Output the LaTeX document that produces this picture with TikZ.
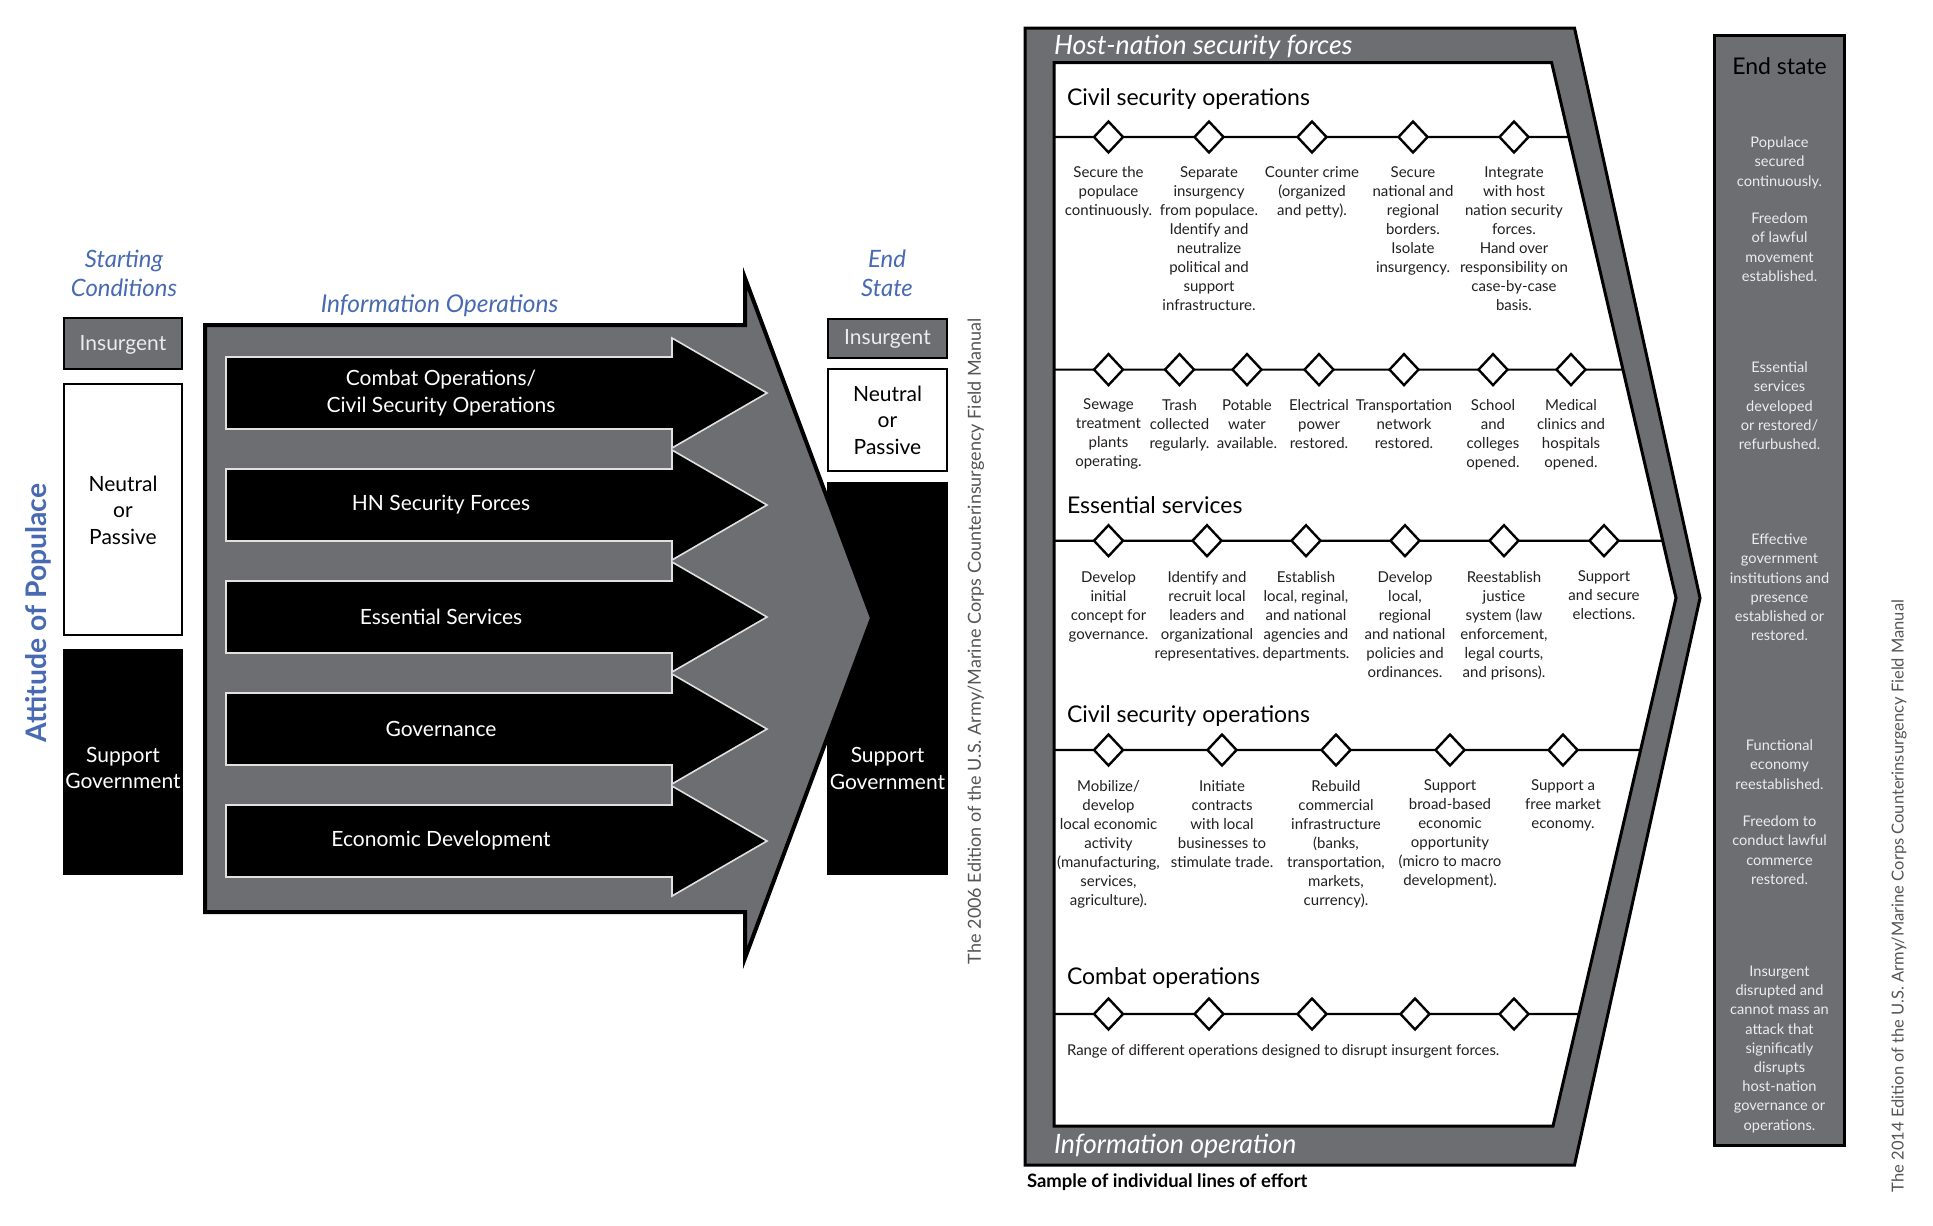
\documentclass[tikz,border=0pt]{standalone}
\usepackage{fontspec}
\setmainfont{Lato}
\usetikzlibrary{shapes.geometric}
\definecolor{panelgray}{RGB}{109,110,114}
\definecolor{hdblue}{RGB}{72,106,178}
\definecolor{ink}{RGB}{35,31,32}
\definecolor{paleink}{RGB}{236,236,236}
\definecolor{credit}{RGB}{85,85,85}
\begin{document}
\begin{tikzpicture}[x=1pt,y=-1pt,
  every node/.style={inner sep=0pt, outer sep=0pt},
  grayshape/.style={fill=panelgray, draw=black, line width=3pt, line join=miter},
  milestone/.style={diamond, draw=black, fill=white, line width=2.4pt, minimum width=29pt, minimum height=31pt},
  effortline/.style={draw=black, line width=2.2pt},
  itemtext/.style={font=\fontsize{15}{19}\selectfont, align=center, anchor=north, text=ink, execute at begin node=\strut},
  endtext/.style={font=\fontsize{14.6}{19.2}\selectfont, align=center, anchor=north, text=paleink, execute at begin node=\strut},
  heading/.style={font=\fontsize{23}{28}\selectfont, anchor=west, text=black},
  paneltitle/.style={font=\fontsize{26.7}{30}\selectfont\itshape, anchor=west, text=white},
  boxtext/.style={font=\fontsize{21}{26.5}\selectfont, align=center},
  bluetitle/.style={font=\fontsize{23.9}{29}\selectfont\itshape, text=hdblue, align=center},
  credittext/.style={text=credit, rotate=90},
  streamarrow/.style={fill=black, draw=black!12, line width=1.6pt, line join=miter},
  statebox/.style={draw=black, line width=2.5pt},
]
\useasboundingbox (0,0) rectangle (1933,1226);
\fill[white] (0,0) rectangle (1933,1226);

% ---------------- left diagram ----------------
\node[bluetitle] (startcond) at (124,273.5) {Starting\\Conditions};
\node[bluetitle] (endstatel) at (887,273.5) {End\\State};
\node[bluetitle, font=\fontsize{24.5}{28}\selectfont\itshape] (infoops) at (439.5,306) {Information Operations};
\node[font=\fontsize{28.3}{30}\selectfont\bfseries, text=hdblue, rotate=90] (attitude) at (38.5,613) {Attitude of Populace};

% starting conditions column
\node[statebox, fill=panelgray, minimum width=118pt, minimum height=51pt] (insL) at (123,343.5) {};
\node[boxtext, text=paleink] (insLt) at (123,345) {Insurgent};
\node[statebox, fill=white, minimum width=118pt, minimum height=251pt] (neuL) at (123,509.5) {};
\node[boxtext, text=black] (neuLt) at (123,510) {Neutral\\or\\Passive};
\node[statebox, fill=black, minimum width=118pt, minimum height=224pt] (supL) at (123,762) {};
\node[boxtext, text=white] (supLt) at (123,768) {Support\\Government};

% end state column
\node[statebox, fill=panelgray, minimum width=119pt, minimum height=39pt] (insR) at (887.5,338.5) {};
\node[boxtext, text=paleink] (insRt) at (887.5,338.5) {Insurgent};
\node[statebox, fill=white, minimum width=119pt, minimum height=102pt] (neuR) at (887.5,420) {};
\node[boxtext, text=black] (neuRt) at (887.5,420) {Neutral\\or\\Passive};
\node[statebox, fill=black, minimum width=119pt, minimum height=391pt] (supR) at (887.5,678.5) {};

% big information operations arrow
\path[grayshape, line width=4pt] (205,325) -- (745,325) -- (745,278) -- (872,618) -- (745,958) -- (745,912) -- (205,912) -- cycle;

\node[boxtext, text=white] (supRt) at (887.5,768.5) {Support\\Government};

% five lines of operation
\foreach \i in {0,...,4}{
  \pgfmathsetmacro{\c}{393+112*\i}
  \path[streamarrow] (226,\c-36) -- (672,\c-36) -- (672,\c-55) -- (767,\c) -- (672,\c+55) -- (672,\c+36) -- (226,\c+36) -- cycle;
}
\node[boxtext, text=white, font=\fontsize{21}{27.5}\selectfont] (lo1) at (441,393) {Combat Operations/\\Civil Security Operations};
\node[boxtext, text=white] (lo2) at (441,505) {HN Security Forces};
\node[boxtext, text=white] (lo3) at (441,617) {Essential Services};
\node[boxtext, text=white] (lo4) at (441,729) {Governance};
\node[boxtext, text=white] (lo5) at (441,841) {Economic Development};

\node[credittext, font=\fontsize{18}{20}\selectfont] (credit06) at (976,641) {The 2006 Edition of the U.S. Army/Marine Corps Counterinsurgency Field Manual};

% ---------------- right diagram ----------------
\path[grayshape] (1025,28) -- (1574.5,28) -- (1700,598) -- (1574.5,1165) -- (1025,1165) -- cycle;
\coordinate (itl) at (1054,62.5);
\coordinate (itr) at (1551.6,62.5);
\coordinate (itip) at (1676,598);
\coordinate (ibr) at (1553,1126);
\coordinate (ibl) at (1054,1126);
\path[fill=white, draw=black, line width=3pt, line join=miter] (itl) -- (itr) -- (itip) -- (ibr) -- (ibl) -- cycle;
\node[paneltitle] (hnsf) at (1054,47) {Host-nation security forces};
\node[paneltitle] (infoop) at (1054,1146) {Information operation};
\node[font=\fontsize{18.5}{22}\selectfont\bfseries, anchor=west, text=black] (sample) at (1027,1182) {Sample of individual lines of effort};

% line 1: civil security operations
\node[heading] (h1) at (1067,99) {Civil security operations};
\coordinate (s1) at (1054,137);
\coordinate (r1) at (1800,137);
\coordinate (e1) at (intersection of s1--r1 and itr--itip);
\foreach \x [count=\i] in {1108.5,1209,1312,1413,1514}
  \node[milestone] (a\i) at (\x,137) {};
\draw[effortline] (s1) -- (a1) -- (a2) -- (a3) -- (a4) -- (a5) -- (e1);
\node[itemtext] (t11) at (1108.5,166.5) {Secure the\\populace\\continuously.};
\node[itemtext] (t12) at (1209,166.5) {Separate\\insurgency\\from populace.\\Identify and\\neutralize\\political and\\support\\infrastructure.};
\node[itemtext] (t13) at (1312,166.5) {Counter crime\\(organized\\and petty).};
\node[itemtext] (t14) at (1413,166.5) {Secure\\national and\\regional\\borders.\\Isolate\\insurgency.};
\node[itemtext] (t15) at (1514,166.5) {Integrate\\with host\\nation security\\forces.\\Hand over\\responsibility on\\case-by-case\\basis.};

% line 2
\coordinate (s2) at (1054,369.6);
\coordinate (r2) at (1800,369.6);
\coordinate (e2) at (intersection of s2--r2 and itr--itip);
\foreach \x [count=\i] in {1108.5,1179.5,1247,1319,1404,1493,1571}
  \node[milestone] (b\i) at (\x,369.6) {};
\draw[effortline] (s2) -- (b1) -- (b2) -- (b3) -- (b4) -- (b5) -- (b6) -- (b7) -- (e2);
\node[itemtext] (t21) at (1108.5,399) {Sewage\\treatment\\plants\\operating.};
\node[itemtext] (t22) at (1179.5,399) {Trash\\collected\\regularly.};
\node[itemtext] (t23) at (1247,399) {Potable\\water\\available.};
\node[itemtext] (t24) at (1319,399) {Electrical\\power\\restored.};
\node[itemtext] (t25) at (1404,399) {Transportation\\network\\restored.};
\node[itemtext] (t26) at (1493,399) {School\\and\\colleges\\opened.};
\node[itemtext] (t27) at (1571,399) {Medical\\clinics and\\hospitals\\opened.};

% line 3: essential services
\node[heading] (h2) at (1067,505) {Essential services};
\coordinate (s3) at (1054,540.7);
\coordinate (r3) at (1800,540.7);
\coordinate (e3) at (intersection of s3--r3 and itr--itip);
\foreach \x [count=\i] in {1108.5,1207,1306,1405,1504,1604}
  \node[milestone] (c\i) at (\x,540.7) {};
\draw[effortline] (s3) -- (c1) -- (c2) -- (c3) -- (c4) -- (c5) -- (c6) -- (e3);
\node[itemtext] (t31) at (1108.5,571) {Develop\\initial\\concept for\\governance.};
\node[itemtext] (t32) at (1207,571) {Identify and\\recruit local\\leaders and\\organizational\\representatives.};
\node[itemtext] (t33) at (1306,571) {Establish\\local, reginal,\\and national\\agencies and\\departments.};
\node[itemtext] (t34) at (1405,571) {Develop\\local,\\regional\\and national\\policies and\\ordinances.};
\node[itemtext] (t35) at (1504,571) {Reestablish\\justice\\system (law\\enforcement,\\legal courts,\\and prisons).};
\node[itemtext] (t36) at (1604,571) {Support\\and secure\\elections.};

% line 4: civil security operations
\node[heading] (h3) at (1067,716) {Civil security operations};
\coordinate (s4) at (1054,750);
\coordinate (r4) at (1800,750);
\coordinate (e4) at (intersection of s4--r4 and itip--ibr);
\foreach \x [count=\i] in {1108.5,1222,1336,1450,1563}
  \node[milestone] (d\i) at (\x,750) {};
\draw[effortline] (s4) -- (d1) -- (d2) -- (d3) -- (d4) -- (d5) -- (e4);
\node[itemtext] (t41) at (1108.5,780) {Mobilize/\\develop\\local economic\\activity\\(manufacturing,\\services,\\agriculture).};
\node[itemtext] (t42) at (1222,780) {Initiate\\contracts\\with local\\businesses to\\stimulate trade.};
\node[itemtext] (t43) at (1336,780) {Rebuild\\commercial\\infrastructure\\(banks,\\transportation,\\markets,\\currency).};
\node[itemtext] (t44) at (1450,780) {Support\\broad-based\\economic\\opportunity\\(micro to macro\\development).};
\node[itemtext] (t45) at (1563,780) {Support a\\free market\\economy.};

% line 5: combat operations
\node[heading] (h4) at (1067,978) {Combat operations};
\coordinate (s5) at (1054,1014);
\coordinate (r5) at (1800,1014);
\coordinate (e5) at (intersection of s5--r5 and itip--ibr);
\foreach \x [count=\i] in {1108.5,1209,1312,1415,1514}
  \node[milestone] (f\i) at (\x,1014) {};
\draw[effortline] (s5) -- (f1) -- (f2) -- (f3) -- (f4) -- (f5) -- (e5);
\node[itemtext, anchor=west, execute at begin node={}, font=\fontsize{14.9}{19}\selectfont] (t51) at (1067,1052) {Range of different operations designed to disrupt insurgent forces.};

% end state column
\node[draw=black, line width=3pt, fill=panelgray, minimum width=130pt, minimum height=1110pt] (endcol) at (1779.5,590) {};
\node[font=\fontsize{23}{26}\selectfont, text=black] (endhd) at (1779.5,66) {End state};
\node[endtext] (g1) at (1779.5,137) {Populace\\secured\\continuously.};
\node[endtext] (g2) at (1779.5,213) {Freedom\\of lawful\\movement\\established.};
\node[endtext] (g3) at (1779.5,362) {Essential\\services\\developed\\or restored/\\refurbushed.};
\node[endtext] (g4) at (1779.5,534) {Effective\\government\\institutions and\\presence\\established or\\restored.};
\node[endtext] (g5) at (1779.5,740) {Functional\\economy\\reestablished.};
\node[endtext] (g6) at (1779.5,816) {Freedom to\\conduct lawful\\commerce\\restored.};
\node[endtext] (g7) at (1779.5,966) {Insurgent\\disrupted and\\cannot mass an\\attack that\\significatly\\disrupts\\host-nation\\governance or\\operations.};

\node[credittext, font=\fontsize{16.5}{19}\selectfont] (credit14) at (1899,896) {The 2014 Edition of the U.S. Army/Marine Corps Counterinsurgency Field Manual};
\end{tikzpicture}
\end{document}
